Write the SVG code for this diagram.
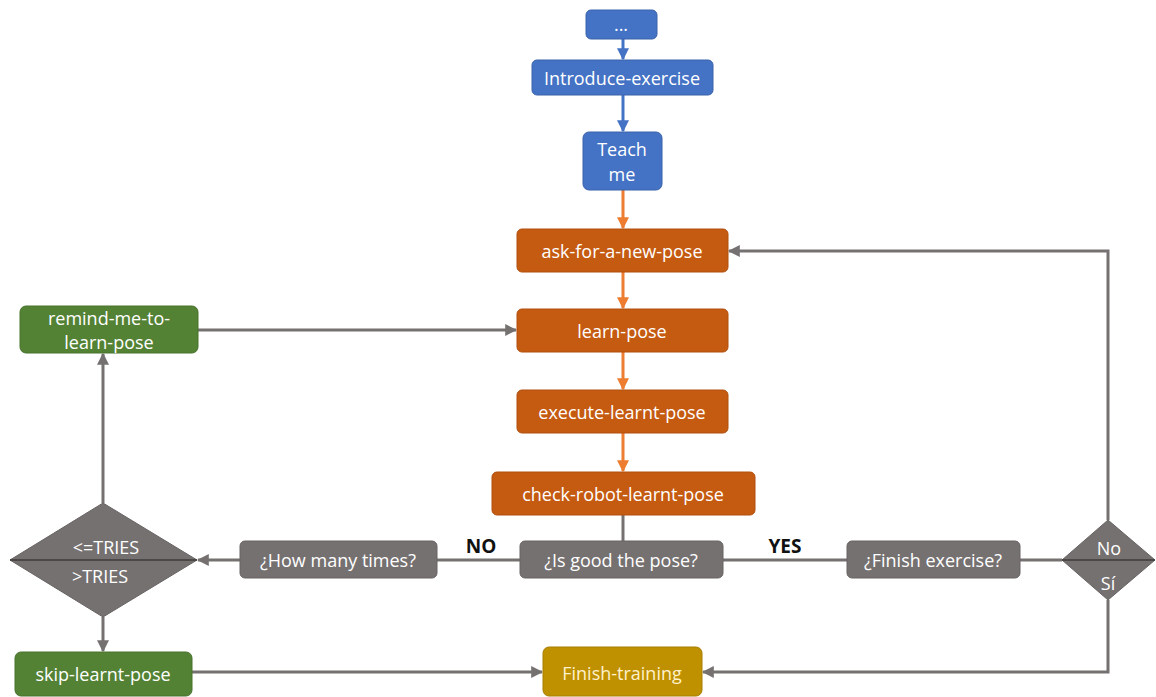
<svg xmlns="http://www.w3.org/2000/svg" width="1156" height="697" viewBox="0 0 1156 697">
  <style>
    .lbl { font-family: "Open Sans", "Noto Sans", sans-serif; font-size: 18px; fill: #ffffff; text-anchor: middle; dominant-baseline: central; }
    .tag { font-family: "Open Sans", "Liberation Sans", sans-serif; font-size: 19px; font-weight: bold; fill: #111111; text-anchor: middle; dominant-baseline: central; }
    .blue { fill: #4472C4; stroke: #3A62AA; stroke-width: 1; }
    .orange { fill: #C55A11; stroke: #B04F0E; stroke-width: 1; }
    .green { fill: #548235; stroke: #48722D; stroke-width: 1; }
    .grey { fill: #767171; stroke: #686363; stroke-width: 1; }
    .gold { fill: #BF9000; stroke: #A87F00; stroke-width: 1; }
    .c-blue { stroke: #4472C4; stroke-width: 3; fill: none; }
    .c-orange { stroke: #ED7D31; stroke-width: 3; fill: none; }
    .c-grey { stroke: #767171; stroke-width: 3; fill: none; }
  </style>
  <defs>
    <marker id="ah-blue" viewBox="0 0 10 10" refX="9" refY="5" markerWidth="4" markerHeight="4" orient="auto">
      <path d="M0,0 L10,5 L0,10 z" fill="#4472C4"/>
    </marker>
    <marker id="ah-orange" viewBox="0 0 10 10" refX="9" refY="5" markerWidth="4" markerHeight="4" orient="auto">
      <path d="M0,0 L10,5 L0,10 z" fill="#ED7D31"/>
    </marker>
    <marker id="ah-grey" viewBox="0 0 10 10" refX="9" refY="5" markerWidth="4" markerHeight="4" orient="auto">
      <path d="M0,0 L10,5 L0,10 z" fill="#767171"/>
    </marker>
  </defs>

  <rect width="1156" height="697" fill="#ffffff"/>

  <!-- connectors -->
  <g id="connectors">
    <line class="c-blue" x1="623" y1="39" x2="623" y2="59" marker-end="url(#ah-blue)"/>
    <line class="c-blue" x1="623" y1="95" x2="623" y2="131" marker-end="url(#ah-blue)"/>
    <line class="c-orange" x1="623" y1="190" x2="623" y2="228" marker-end="url(#ah-orange)"/>
    <line class="c-orange" x1="623" y1="272" x2="623" y2="308" marker-end="url(#ah-orange)"/>
    <line class="c-orange" x1="623" y1="352" x2="623" y2="389" marker-end="url(#ah-orange)"/>
    <line class="c-orange" x1="623" y1="433" x2="623" y2="471" marker-end="url(#ah-orange)"/>
    <line class="c-grey" x1="623" y1="515" x2="623" y2="541"/>
    <line class="c-grey" x1="520" y1="560" x2="437" y2="560"/>
    <line class="c-grey" x1="240" y1="560" x2="198" y2="560" marker-end="url(#ah-grey)"/>
    <line class="c-grey" x1="103" y1="503" x2="103" y2="354" marker-end="url(#ah-grey)"/>
    <line class="c-grey" x1="198" y1="330" x2="516" y2="330" marker-end="url(#ah-grey)"/>
    <line class="c-grey" x1="103" y1="617" x2="103" y2="651" marker-end="url(#ah-grey)"/>
    <line class="c-grey" x1="192" y1="672" x2="542" y2="672" marker-end="url(#ah-grey)"/>
    <line class="c-grey" x1="723" y1="560" x2="847" y2="560"/>
    <line class="c-grey" x1="1020" y1="560" x2="1062" y2="560"/>
    <polyline class="c-grey" points="1108,520 1108,251 729,251" marker-end="url(#ah-grey)"/>
    <polyline class="c-grey" points="1108,600 1108,672 703,672" marker-end="url(#ah-grey)"/>
  </g>

  <!-- edge labels -->
  <text class="tag" x="481" y="546">NO</text>
  <text class="tag" x="785" y="546">YES</text>

  <!-- nodes -->
  <g id="n-dots">
    <rect class="blue" x="586" y="10" width="71" height="29" rx="5"/>
    <text class="lbl" x="621" y="24">...</text>
  </g>
  <g id="n-introduce">
    <rect class="blue" x="532" y="60" width="181" height="35" rx="5"/>
    <text class="lbl" x="622" y="78">Introduce-exercise</text>
  </g>
  <g id="n-teach">
    <rect class="blue" x="583" y="132" width="79" height="58" rx="6"/>
    <text class="lbl" x="622" y="149">Teach</text>
    <text class="lbl" x="622" y="174">me</text>
  </g>
  <g id="n-ask">
    <rect class="orange" x="517" y="229" width="211" height="43" rx="5"/>
    <text class="lbl" x="622" y="251">ask-for-a-new-pose</text>
  </g>
  <g id="n-learn">
    <rect class="orange" x="517" y="309" width="211" height="43" rx="5"/>
    <text class="lbl" x="622" y="331">learn-pose</text>
  </g>
  <g id="n-execute">
    <rect class="orange" x="517" y="390" width="211" height="43" rx="5"/>
    <text class="lbl" x="622" y="412">execute-learnt-pose</text>
  </g>
  <g id="n-check">
    <rect class="orange" x="492" y="472" width="263" height="43" rx="5"/>
    <text class="lbl" x="623" y="494">check-robot-learnt-pose</text>
  </g>
  <g id="n-isgood">
    <rect class="grey" x="520" y="541" width="203" height="37" rx="5"/>
    <text class="lbl" x="621" y="560">¿Is good the pose?</text>
  </g>
  <g id="n-howmany">
    <rect class="grey" x="240" y="541" width="197" height="37" rx="5"/>
    <text class="lbl" x="338" y="560">¿How many times?</text>
  </g>
  <g id="n-finishex">
    <rect class="grey" x="847" y="541" width="173" height="37" rx="5"/>
    <text class="lbl" x="933" y="560">¿Finish exercise?</text>
  </g>
  <g id="n-tries">
    <polygon class="grey" points="103,503 197,560 103,617 10,560"/>
    <line x1="10" y1="560" x2="197" y2="560" stroke="#3F3B3B" stroke-width="1.5"/>
    <text class="lbl" x="106" y="547">&lt;=TRIES</text>
    <text class="lbl" x="100" y="576">&gt;TRIES</text>
  </g>
  <g id="n-finishdec">
    <polygon class="grey" points="1108,520 1155,560 1108,600 1062,560"/>
    <line x1="1062" y1="560" x2="1155" y2="560" stroke="#3F3B3B" stroke-width="1.5"/>
    <text class="lbl" x="1109" y="548">No</text>
    <text class="lbl" x="1108" y="583">Sí</text>
  </g>
  <g id="n-remind">
    <rect class="green" x="20" y="306" width="178" height="47" rx="6"/>
    <text class="lbl" x="109" y="318">remind-me-to-</text>
    <text class="lbl" x="109" y="342">learn-pose</text>
  </g>
  <g id="n-skip">
    <rect class="green" x="15" y="652" width="177" height="44" rx="6"/>
    <text class="lbl" x="103" y="674">skip-learnt-pose</text>
  </g>
  <g id="n-finishtrain">
    <rect class="gold" x="543" y="647" width="159" height="49" rx="6"/>
    <text class="lbl" x="622" y="673" style="fill:#FFF2CC">Finish-training</text>
  </g>
</svg>
